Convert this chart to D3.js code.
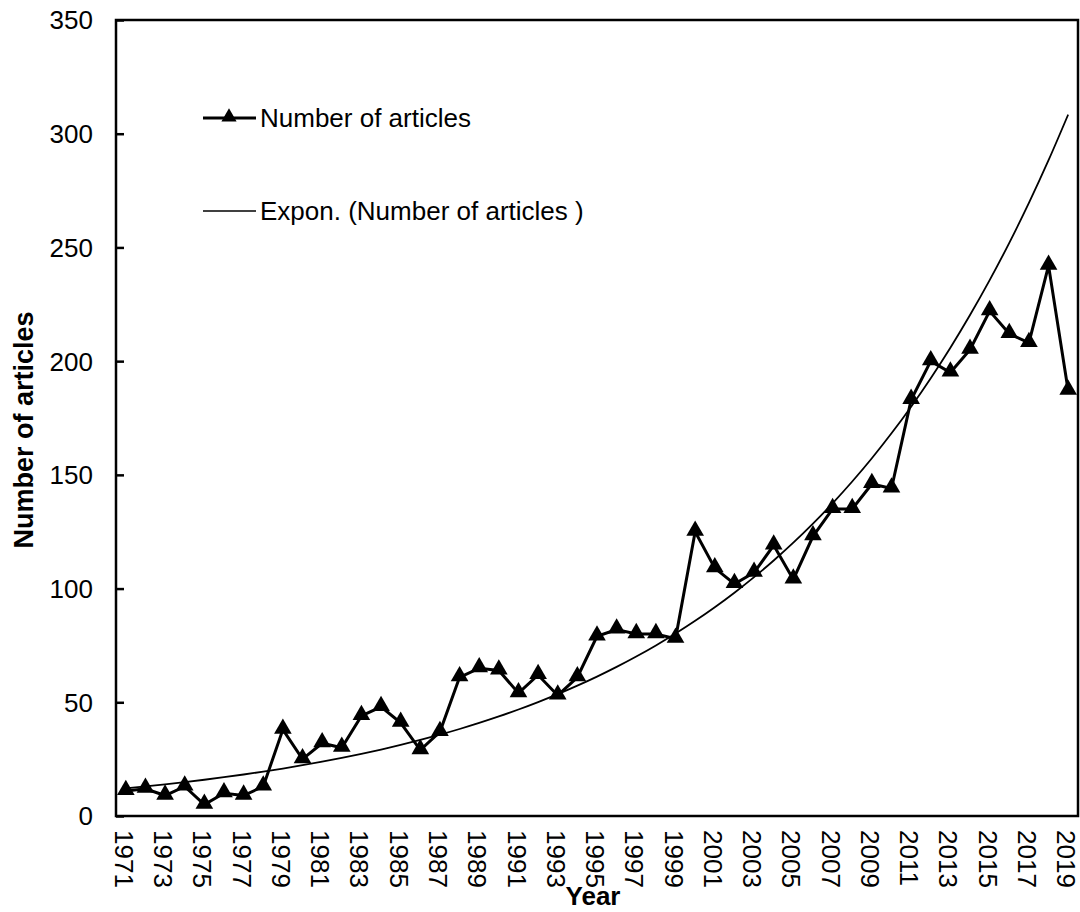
<!DOCTYPE html>
<html>
<head>
<meta charset="utf-8">
<script src="https://cdn.jsdelivr.net/npm/d3@7"></script>
<style>
  body { margin: 0; background: #fff; }
  svg { font-family: Arial, "Liberation Sans", sans-serif; }
</style>
</head>
<body>
<svg width="1080" height="912"></svg>
<script>
const years = d3.range(1971, 2020).map(String);
const articles = [
  11, 12, 9, 13, 5, 10, 9, 13, 38, 25,
  32, 30, 44, 48, 41, 29, 37, 61, 65, 64,
  54, 62, 53, 61, 79, 82, 80, 80, 78, 125,
  109, 102, 107, 119, 104, 123, 135, 135, 146, 144,
  183, 200, 195, 205, 222, 212, 208, 242, 187
];
const yTicks = [0, 50, 100, 150, 200, 250, 300, 350];
const seriesName = "Number of articles";
const trendName = "Expon. (Number of articles )";

const svgWidth = 1080;
const svgHeight = 912;
const margin = { left: 116, right: 2, top: 20, bottom: 96 };
const chartWidth = svgWidth - margin.left - margin.right;
const chartHeight = svgHeight - margin.top - margin.bottom;
const fontSize = 26;

const svg = d3.select("svg");
const chartGroup = svg.append("g")
  .attr("transform", `translate(${margin.left}, ${margin.top})`);

const xScaler = d3.scaleBand().domain(years).range([0, chartWidth]);
const yScaler = d3.scaleLinear().domain([0, 350]).range([chartHeight, 0]);
const xPos = (year) => xScaler(year) + xScaler.bandwidth() / 2;

// plot frame
chartGroup.append("rect")
  .attr("width", chartWidth)
  .attr("height", chartHeight)
  .attr("fill", "none")
  .attr("stroke", "#000")
  .attr("stroke-width", 2.5);

// y axis with inside ticks
const yAxisGroup = chartGroup.append("g")
  .call(d3.axisRight(yScaler).tickValues(yTicks).tickSize(8).tickFormat(""));
yAxisGroup.select(".domain").remove();
yAxisGroup.selectAll("line").attr("stroke-width", 2.5);
chartGroup.append("g").selectAll("text")
  .data(yTicks)
  .join("text")
  .attr("x", -23)
  .attr("y", (d) => yScaler(d))
  .attr("dy", "0.36em")
  .attr("text-anchor", "end")
  .attr("font-size", fontSize)
  .text((d) => d);

// x labels (every other year), rotated
const xLabels = years.filter((d, i) => i % 2 === 0);
chartGroup.append("g").selectAll("text")
  .data(xLabels)
  .join("text")
  .attr("transform", (d) => `translate(${xPos(d)}, ${chartHeight + 14}) rotate(90)`)
  .attr("dy", "0.42em")
  .attr("font-size", fontSize)
  .text((d) => d);

// exponential trendline (least squares on ln y, like a spreadsheet)
const xs = d3.range(1, years.length + 1);
const lys = articles.map((v) => Math.log(v));
const mx = d3.mean(xs);
const my = d3.mean(lys);
const b = d3.sum(xs, (x, i) => (x - mx) * (lys[i] - my)) / d3.sum(xs, (x) => (x - mx) ** 2);
const a = Math.exp(my - b * mx);
const trend = years.map((y, i) => ({ year: y, v: a * Math.exp(b * (i + 1)) }));

chartGroup.append("path")
  .datum(trend)
  .attr("fill", "none")
  .attr("stroke", "#000")
  .attr("stroke-width", 1.8)
  .attr("d", d3.line().x((d) => xPos(d.year)).y((d) => yScaler(d.v)).curve(d3.curveMonotoneX));

// data line
const dataPoints = years.map((y, i) => ({ year: y, v: articles[i] }));
chartGroup.append("path")
  .datum(dataPoints)
  .attr("fill", "none")
  .attr("stroke", "#000")
  .attr("stroke-width", 3)
  .attr("d", d3.line().x((d) => xPos(d.year)).y((d) => yScaler(d.v)));

const tri = d3.symbol().type(d3.symbolTriangle).size(135);
chartGroup.append("g").selectAll("path")
  .data(dataPoints)
  .join("path")
  .attr("transform", (d) => `translate(${xPos(d.year)}, ${yScaler(d.v) - 1})`)
  .attr("d", tri)
  .attr("fill", "#000");

// legend
const legend = svg.append("g");
legend.append("line")
  .attr("x1", 203).attr("x2", 256).attr("y1", 118).attr("y2", 118)
  .attr("stroke", "#000").attr("stroke-width", 3);
legend.append("path")
  .attr("transform", "translate(229, 117)")
  .attr("d", d3.symbol().type(d3.symbolTriangle).size(100))
  .attr("fill", "#000");
legend.append("text")
  .attr("x", 260).attr("y", 118).attr("dy", "0.36em")
  .attr("font-size", fontSize)
  .text(seriesName);
legend.append("line")
  .attr("x1", 203).attr("x2", 256).attr("y1", 211).attr("y2", 211)
  .attr("stroke", "#000").attr("stroke-width", 1.5);
legend.append("text")
  .attr("x", 260).attr("y", 211).attr("dy", "0.36em")
  .attr("font-size", fontSize)
  .text(trendName);

// axis titles
svg.append("text")
  .attr("x", 593).attr("y", 905)
  .attr("text-anchor", "middle")
  .attr("font-size", fontSize)
  .attr("font-weight", "bold")
  .text("Year");
svg.append("text")
  .attr("transform", "translate(33, 430) rotate(-90)")
  .attr("text-anchor", "middle")
  .attr("font-size", 27)
  .attr("font-weight", "bold")
  .text("Number of articles");
</script>
</body>
</html>
